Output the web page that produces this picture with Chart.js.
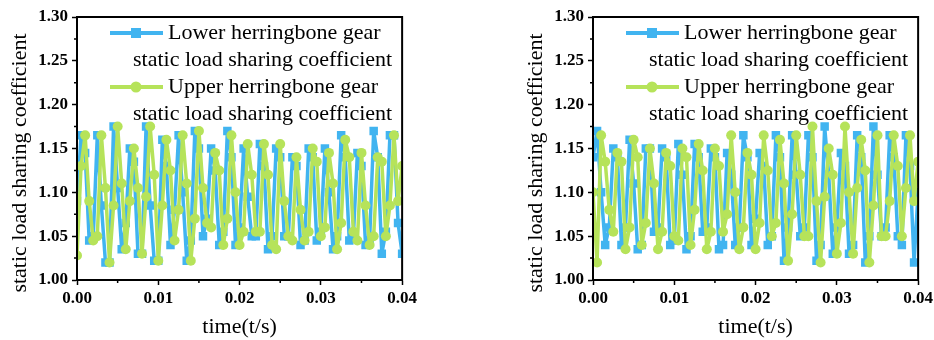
<!DOCTYPE html>
<html><head><meta charset="utf-8">
<script src="https://cdn.jsdelivr.net/npm/chart.js@4.4.0/dist/chart.umd.min.js"></script>
<style>
html,body{margin:0;padding:0;background:#fff;}
#wrap{position:relative;width:934px;height:340px;overflow:hidden;background:#fff;}
canvas{position:absolute;top:0;}
</style></head><body>
<div id="wrap">
<canvas id="c1" width="420" height="340" style="left:0px"></canvas>
<canvas id="c2" width="420" height="340" style="left:516px"></canvas>
</div>
<script>
// ---------- data ----------
const times = [0,0.0005,0.001,0.0015,0.002,0.0025,0.003,0.0035,0.004,0.0045,
0.005,0.0055,0.006,0.0065,0.007,0.0075,0.008,0.0085,0.009,0.0095,
0.01,0.0105,0.011,0.0115,0.012,0.0125,0.013,0.0135,0.014,0.0145,
0.015,0.0155,0.016,0.0165,0.017,0.0175,0.018,0.0185,0.019,0.0195,
0.02,0.0205,0.021,0.0215,0.022,0.0225,0.023,0.0235,0.024,0.0245,
0.025,0.0255,0.026,0.0265,0.027,0.0275,0.028,0.0285,0.029,0.0295,
0.03,0.0305,0.031,0.0315,0.032,0.0325,0.033,0.0335,0.034,0.0345,
0.035,0.0355,0.036,0.0365,0.037,0.0375,0.038,0.0385,0.039,0.0395,0.04];

const lowerA = [1.09,
1.165,1.145,1.045,1.05, 1.165,1.085,1.02,1.02, 1.175,1.105,1.035,1.065, 1.15,1.135,1.03,1.03,
1.175,1.085,1.022,1.022, 1.16,1.13,1.04,1.08, 1.165,1.10,1.022,1.045, 1.17,1.15,1.05,1.07,
1.15,1.125,1.04,1.055, 1.17,1.14,1.04,1.06, 1.15,1.095,1.05,1.05, 1.155,1.13,1.035,1.05,
1.15,1.14,1.05,1.05, 1.14,1.13,1.04,1.045, 1.15,1.14,1.045,1.055, 1.15,1.10,1.035,1.05,
1.165,1.14,1.045,1.05, 1.145,1.13,1.04,1.045, 1.17,1.14,1.03,1.055, 1.165,1.165,1.065,1.03];

const upperA = [1.028,
1.13,1.165,1.09,1.045, 1.05,1.165,1.105,1.02, 1.085,1.175,1.11,1.035, 1.09,1.15,1.105,1.03,
1.095,1.175,1.12,1.022, 1.085,1.16,1.125,1.045, 1.08,1.165,1.11,1.022, 1.07,1.17,1.105,1.065,
1.06,1.145,1.125,1.04, 1.07,1.165,1.10,1.04, 1.055,1.155,1.12,1.055, 1.055,1.155,1.12,1.04,
1.035,1.155,1.09,1.05, 1.045,1.14,1.08,1.045, 1.055,1.15,1.135,1.05, 1.06,1.145,1.11,1.035,
1.065,1.16,1.14,1.055, 1.045,1.145,1.085,1.04, 1.05,1.14,1.135,1.05, 1.085,1.165,1.09,1.13];

const lowerB = [1.14,
1.17,1.10,1.04,1.06, 1.15,1.14,1.04,1.06, 1.16,1.11,1.035,1.04, 1.15,1.15,1.055,1.06,
1.15,1.14,1.04,1.045, 1.155,1.12,1.035,1.05, 1.155,1.14,1.055,1.06, 1.15,1.14,1.035,1.04,
1.145,1.12,1.04,1.06, 1.165,1.14,1.04,1.07, 1.145,1.13,1.04,1.05, 1.165,1.14,1.022,1.06,
1.165,1.12,1.05,1.06, 1.165,1.14,1.022,1.04, 1.175,1.12,1.03,1.06, 1.145,1.13,1.03,1.04,
1.165,1.14,1.02,1.05, 1.175,1.12,1.05,1.06, 1.165,1.14,1.05,1.04, 1.165,1.13,1.02,1.10];

const upperB = [1.10,
1.02,1.165,1.135,1.08, 1.055,1.145,1.135,1.035, 1.06,1.16,1.14,1.04, 1.065,1.15,1.11,1.035,
1.055,1.145,1.13,1.05, 1.045,1.15,1.14,1.04, 1.08,1.155,1.125,1.035, 1.055,1.15,1.13,1.055,
1.075,1.165,1.10,1.035, 1.06,1.145,1.12,1.035, 1.065,1.165,1.125,1.05, 1.065,1.16,1.11,1.022,
1.075,1.165,1.12,1.05, 1.05,1.175,1.09,1.02, 1.095,1.15,1.12,1.03, 1.065,1.175,1.10,1.03,
1.105,1.16,1.125,1.02, 1.085,1.165,1.05,1.05, 1.09,1.165,1.13,1.05, 1.105,1.165,1.09,1.135];

const xTicks = [0, 0.01, 0.02, 0.03, 0.04];
const yTicks = [1.00, 1.05, 1.10, 1.15, 1.20, 1.25, 1.30];
const xMinor = [0.005, 0.015, 0.025, 0.035];
const yMinor = [1.025, 1.075, 1.125, 1.175, 1.225, 1.275];
const seriesNames = [['Lower herringbone gear', 'static load sharing coefficient'],
                     ['Upper herringbone gear', 'static load sharing coefficient']];
const xTitle = 'time(t/s)';
const yTitle = 'static load sharing coefficient';

// ---------- style ----------
const BLUE = '#41b4f0';
const GREEN = '#b6e35a';
const SERIF = '"Liberation Serif", "Times New Roman", serif';

const decoPlugin = {
  id: 'deco',
  afterDraw(chart) {
    const {ctx, chartArea: a, scales: {x, y}} = chart;
    ctx.save();
    // frame
    ctx.strokeStyle = '#000';
    ctx.lineWidth = 2;
    ctx.strokeRect(a.left, a.top, a.right - a.left, a.bottom - a.top);
    // minor ticks
    ctx.lineWidth = 1.5;
    ctx.beginPath();
    xMinor.forEach(v => { const p = x.getPixelForValue(v); ctx.moveTo(p, a.bottom); ctx.lineTo(p, a.bottom + 3); });
    yMinor.forEach(v => { const p = y.getPixelForValue(v); ctx.moveTo(a.left, p); ctx.lineTo(a.left - 3, p); });
    ctx.stroke();
    // y title
    ctx.save();
    ctx.translate(20, 163);
    ctx.rotate(-Math.PI / 2);
    ctx.font = '22px ' + SERIF;
    ctx.fillStyle = '#000';
    ctx.textAlign = 'center';
    ctx.textBaseline = 'middle';
    ctx.fillText(yTitle, 0, 0);
    ctx.restore();
    // legend
    const L = a.left;
    const rows = [{yy: 33, c: BLUE, s: 'rect'}, {yy: 87, c: GREEN, s: 'circle'}];
    rows.forEach((r, i) => {
      ctx.strokeStyle = r.c;
      ctx.lineWidth = 4;
      ctx.beginPath();
      ctx.moveTo(L + 33, r.yy); ctx.lineTo(L + 86, r.yy);
      ctx.stroke();
      ctx.fillStyle = r.c;
      if (r.s === 'rect') {
        ctx.fillRect(L + 59 - 5, r.yy - 5, 10, 10);
      } else {
        ctx.beginPath(); ctx.arc(L + 59, r.yy, 5.5, 0, Math.PI * 2); ctx.fill();
      }
      ctx.fillStyle = '#000';
      ctx.font = '22px ' + SERIF;
      ctx.textAlign = 'left';
      ctx.textBaseline = 'middle';
      ctx.fillText(seriesNames[i][0], L + 91, r.yy);
      ctx.fillText(seriesNames[i][1], L + 56, r.yy + 27);
    });
    ctx.restore();
  }
};

function makeChart(id, lower, upper, padRight) {
  const toPts = arr => times.map((t, i) => ({x: t, y: arr[i]}));
  const tickFont = {family: SERIF, size: 17, weight: 'bold'};
  return new Chart(document.getElementById(id), {
    type: 'line',
    data: {
      datasets: [
        {label: seriesNames[1].join(' '), data: toPts(upper), borderColor: GREEN, backgroundColor: GREEN,
         borderWidth: 3.5, borderJoinStyle: 'round', pointStyle: 'circle', pointRadius: 5, pointBorderWidth: 0, tension: 0, order: 0},
        {label: seriesNames[0].join(' '), data: toPts(lower), borderColor: BLUE, backgroundColor: BLUE,
         borderWidth: 3.5, borderJoinStyle: 'round', pointStyle: 'rect', pointRadius: 6, pointBorderWidth: 0, tension: 0, order: 1}
      ]
    },
    options: {
      responsive: false,
      animation: false,
      devicePixelRatio: 1,
      layout: {padding: {left: 0, right: padRight, top: 17, bottom: 0}},
      plugins: {legend: {display: false}, tooltip: {enabled: false}},
      scales: {
        x: {
          type: 'linear', min: 0, max: 0.04,
          afterFit: s => { s.height = 60; },
          afterBuildTicks: s => { s.ticks = xTicks.map(v => ({value: v})); },
          ticks: {callback: v => Number(v).toFixed(2), font: tickFont, color: '#000', padding: 3, maxRotation: 0, autoSkip: false},
          grid: {drawOnChartArea: false, drawTicks: true, tickLength: 5, tickColor: '#000', tickWidth: 1.5},
          border: {display: true, color: '#000', width: 2},
          title: {display: true, text: xTitle, font: {family: SERIF, size: 22}, color: '#000', padding: {top: 0, bottom: 0}}
        },
        y: {
          type: 'linear', min: 1.0, max: 1.3,
          afterFit: s => { s.width = 77; },
          afterBuildTicks: s => { s.ticks = yTicks.map(v => ({value: v})); },
          ticks: {callback: v => Number(v).toFixed(2), font: tickFont, color: '#000', padding: 4, autoSkip: false},
          grid: {drawOnChartArea: false, drawTicks: true, tickLength: 5, tickColor: '#000', tickWidth: 1.5},
          border: {display: true, color: '#000', width: 2}
        }
      }
    },
    plugins: [decoPlugin]
  });
}

makeChart('c1', lowerA, upperA, 17);
makeChart('c2', lowerB, upperB, 16);
</script>
</body></html>
